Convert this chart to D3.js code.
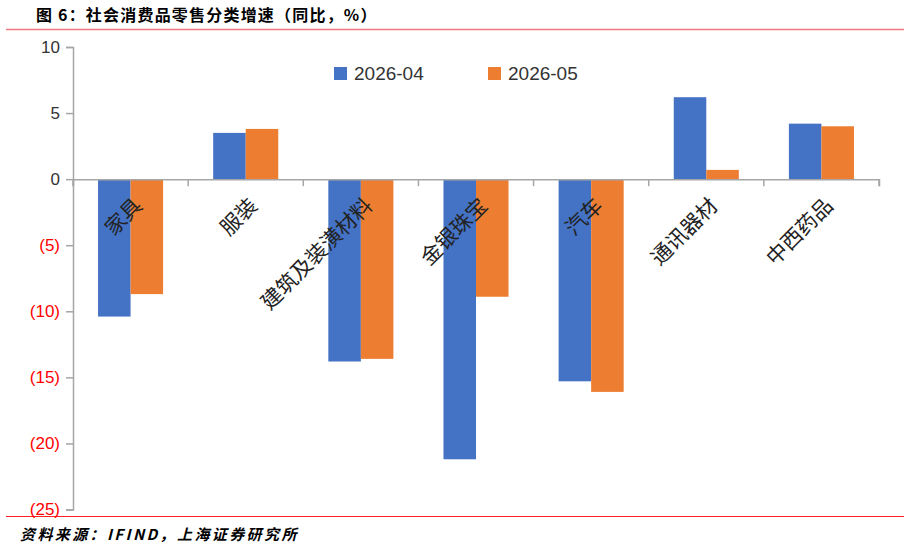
<!DOCTYPE html>
<html>
<head>
<meta charset="utf-8">
<script src="https://cdn.jsdelivr.net/npm/d3@7/dist/d3.min.js"></script>
<style>
  body { margin: 0; background: #fff; }
  svg { display: block; font-family: "Microsoft YaHei", "Noto Sans CJK SC", sans-serif; }
</style>
</head>
<body>
<svg id="chart" width="904" height="549"></svg>
<script>
// categories and values (YoY %)
const categories = ["家具", "服装", "建筑及装潢材料", "金银珠宝", "汽车", "通讯器材", "中西药品"];
const seriesNames = ["2026-04", "2026-05"];
const apr = [-10.4, 3.5, -13.8, -21.2, -15.3, 6.2, 4.2];
const may = [-8.7, 3.8, -13.6, -8.9, -16.1, 0.7, 4.0];
const yTicks = [10, 5, 0, -5, -10, -15, -20, -25];
const colors = ["#4472C4", "#ED7D31"];

const svg = d3.select("#chart");

// header / footer
svg.append("text")
    .attr("x", 36).attr("y", 21)
    .style("font-size", "16px").style("font-weight", "bold")
    .style("letter-spacing", "1.2px")
    .text("图 6：社会消费品零售分类增速（同比，%）");
svg.append("line")
    .attr("x1", 6).attr("x2", 904).attr("y1", 29.5).attr("y2", 29.5)
    .style("stroke", "#f4777f").style("stroke-width", 1.5);
svg.append("line")
    .attr("x1", 6).attr("x2", 904).attr("y1", 516.5).attr("y2", 516.5)
    .style("stroke", "#ff2020").style("stroke-width", 1.2);
svg.append("text")
    .attr("x", 20).attr("y", 540)
    .style("font-size", "15px").style("font-style", "italic").style("font-weight", "bold")
    .style("letter-spacing", "2.4px")
    .text("资料来源：IFIND，上海证券研究所");

// scales
const y = d3.scaleLinear().domain([-25, 10]).range([509.5, 47]);
const x = d3.scaleBand().domain(categories).range([73, 879]).paddingInner(0).paddingOuter(0);
const inner = d3.scaleBand().domain(seriesNames).range([0, x.bandwidth()]).paddingInner(0).paddingOuter(0.77);

const g = svg.append("g");

// bars
const data = categories.map((c, i) => ({ cat: c, vals: [apr[i], may[i]] }));
const groups = g.selectAll(".grp").data(data).enter().append("g")
    .attr("transform", d => "translate(" + x(d.cat) + ",0)");
groups.selectAll("rect")
    .data(d => d.vals.map((v, j) => ({ v: v, s: seriesNames[j], j: j })))
    .enter().append("rect")
    .attr("x", d => inner(d.s))
    .attr("width", inner.bandwidth())
    .attr("y", d => y(Math.max(0, d.v)))
    .attr("height", d => Math.abs(y(d.v) - y(0)))
    .style("fill", d => colors[d.j]);

// y axis
const yAxis = d3.axisLeft(y).tickValues(yTicks).tickSize(7).tickPadding(6)
    .tickFormat(d => d < 0 ? "(" + Math.abs(d) + ")" : d);
const ya = g.append("g").attr("transform", "translate(73,0)").call(yAxis);
ya.select(".domain").style("stroke", "#a6a6a6").style("stroke-width", 1.5);
ya.selectAll(".tick line").style("stroke", "#a6a6a6").style("stroke-width", 1.5);
ya.selectAll(".tick text")
    .style("font-size", "17px")
    .style("font-family", "'Liberation Sans', Arial, sans-serif")
    .style("fill", d => d < 0 ? "#ff0000" : "#333");

// x axis at zero
const xAxis = d3.axisBottom(x).tickSize(7).tickFormat("");
const xa = g.append("g").attr("transform", "translate(0," + y(0) + ")").call(xAxis);
xa.select(".domain").style("stroke", "#a6a6a6").style("stroke-width", 1.5);
xa.selectAll(".tick line")
    .attr("transform", "translate(" + (-x.bandwidth() / 2) + ",0)")
    .style("stroke", "#a6a6a6").style("stroke-width", 1.5);
// extra tick at right end
xa.append("line").attr("x1", 879).attr("x2", 879).attr("y1", 0).attr("y2", 7)
    .style("stroke", "#a6a6a6").style("stroke-width", 1.5);

// category labels, rotated
g.selectAll(".cat").data(categories).enter().append("text")
    .attr("class", "cat")
    .attr("transform", d => "translate(" + (x(d) + x.bandwidth() / 2 + 1) + "," + (y(0) + 16) + ") rotate(-45)")
    .attr("text-anchor", "end")
    .attr("dy", "0.8em")
    .style("font-size", "21px")
    .style("fill", "#222")
    .text(d => d);

// legend
const legend = svg.append("g");
const legendX = [334, 488];
seriesNames.forEach((s, i) => {
    legend.append("rect").attr("x", legendX[i]).attr("y", 67).attr("width", 13).attr("height", 13)
        .style("fill", colors[i]);
    legend.append("text").attr("x", legendX[i] + 20).attr("y", 80)
        .style("font-size", "19px").style("fill", "#333")
        .style("font-family", "'Liberation Sans', Arial, sans-serif")
        .text(s);
});
</script>
</body>
</html>
